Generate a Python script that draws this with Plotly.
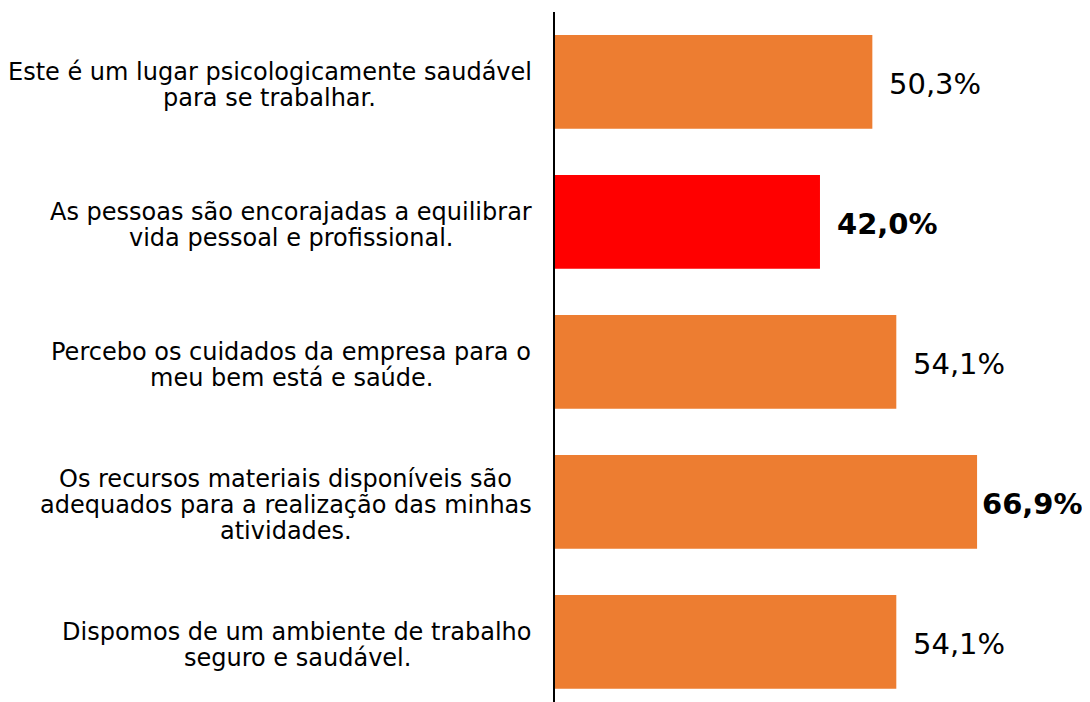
import plotly.graph_objects as go

categories = [
    "Este é um lugar psicologicamente saudável<br>para se trabalhar.",
    "As pessoas são encorajadas a equilibrar<br>vida pessoal e profissional.",
    "Percebo os cuidados da empresa para o<br>meu bem está e saúde.",
    "Os recursos materiais disponíveis são<br>adequados para a realização das minhas<br>atividades.",
    "Dispomos de um ambiente de trabalho<br>seguro e saudável.",
]
values = [50.3, 42.0, 54.1, 66.9, 54.1]
value_labels = ["50,3%", "42,0%", "54,1%", "66,9%", "54,1%"]
bold_flags = [False, True, False, True, False]
bar_colors = ["#ED7D31", "#FF0000", "#ED7D31", "#ED7D31", "#ED7D31"]

FONT = "DejaVu Sans"
LABEL_SIZE = 24
LINE_STEP = 26

# approximate DejaVu Sans advance widths (em) for centring multi-line labels
_W = {' ': .318, '.': .318, 'a': .613, 'b': .635, 'c': .550, 'd': .635, 'e': .615,
      'f': .352, 'g': .635, 'h': .634, 'i': .278, 'j': .278, 'k': .579, 'l': .278,
      'm': .974, 'n': .634, 'o': .612, 'p': .635, 'q': .635, 'r': .411, 's': .521,
      't': .392, 'u': .634, 'v': .592, 'w': .818, 'x': .592, 'y': .592, 'z': .525,
      'E': .632, 'A': .684, 'P': .603, 'O': .787, 'D': .770}
_ACC = {'á': 'a', 'ã': 'a', 'é': 'e', 'í': 'i', 'ú': 'u', 'ç': 'c', 'ó': 'o'}


def text_width(s, size):
    return sum(_W.get(_ACC.get(c, c), .6) for c in s) * size


fig = go.Figure(go.Bar(
    y=categories, x=values, orientation="h",
    marker=dict(color=bar_colors, line=dict(width=0)),
    hoverinfo="skip",
))

annotations = []
vmax = max(values)
for cat, v, lab, b in zip(categories, values, value_labels, bold_flags):
    annotations.append(dict(
        x=v, y=cat, xref="x", yref="y", xanchor="left", yanchor="middle",
        text=f"<b>{lab}</b>" if b else lab, showarrow=False,
        xshift=3 if v == vmax else 15, yshift=-2,
        font=dict(family=FONT, size=29, color="black"),
    ))
    lines = cat.split("<br>")
    maxw = max(text_width(l, LABEL_SIZE) for l in lines)
    n = len(lines)
    for i, line in enumerate(lines):
        annotations.append(dict(
            x=0, y=cat, xref="paper", yref="y", xanchor="center", yanchor="middle",
            text=line, showarrow=False,
            xshift=-(23 + maxw / 2),
            yshift=((n - 1) / 2 - i) * LINE_STEP - 3,
            font=dict(family=FONT, size=LABEL_SIZE, color="black"),
        ))

fig.update_layout(
    width=1082, height=694,
    margin=dict(l=547, r=0, t=4, b=0),
    paper_bgcolor="white", plot_bgcolor="white",
    bargap=0.33,
    showlegend=False,
    annotations=annotations,
    xaxis=dict(range=[0, 84.8], showgrid=False, zeroline=False, showticklabels=False,
               showline=False, ticks=""),
    yaxis=dict(type="category", categoryorder="array", categoryarray=categories,
               range=[4.43, -0.5], showgrid=False, zeroline=False,
               showticklabels=False, showline=True, linecolor="black", linewidth=2,
               ticks=""),
)

fig.write_html("out.html")
